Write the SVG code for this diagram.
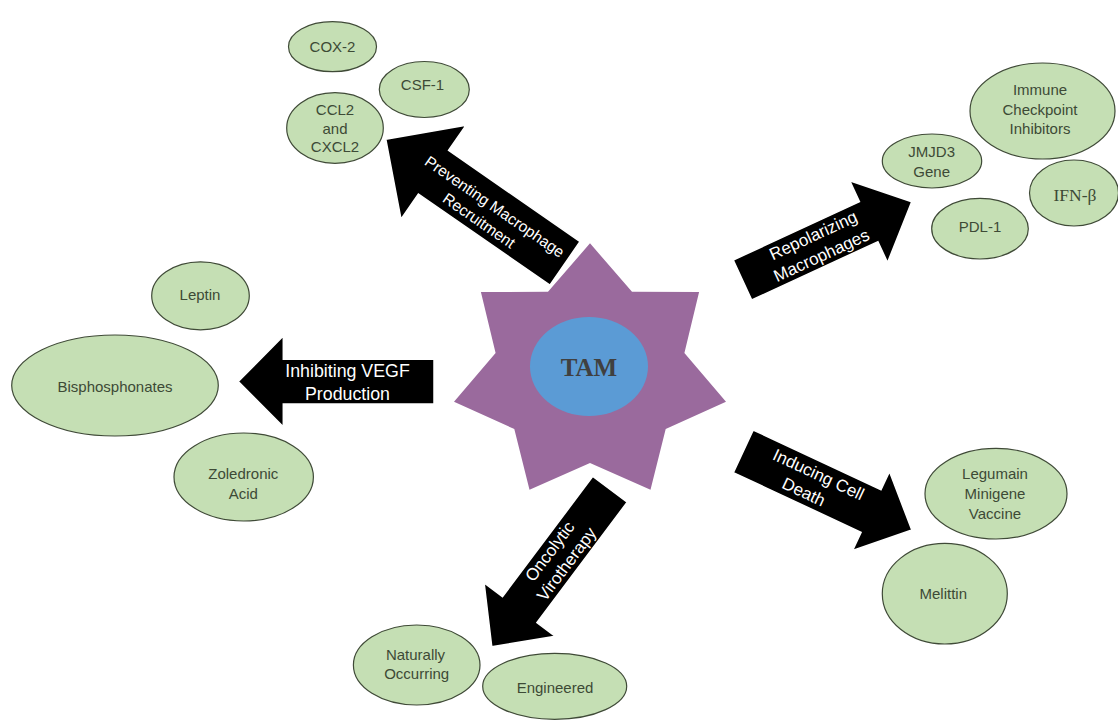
<svg xmlns="http://www.w3.org/2000/svg" width="1118" height="721" viewBox="0 0 1118 721">
<style>
.bg{fill:#ffffff}
.leaf{fill:#C5DFB4;stroke:#3F4A37;stroke-width:1.2}
.lt{font-family:"Liberation Sans",Arial,sans-serif;font-size:15px;fill:#3D4A36;text-anchor:middle}
.serif{font-family:"Liberation Serif","Times New Roman",serif;font-size:17.5px;fill:#3D4A36;text-anchor:middle}
.arrow{fill:#000000;stroke:#ffffff;stroke-width:1.5;stroke-linejoin:miter}
.at{font-family:"Liberation Sans",Arial,sans-serif;font-size:17.8px;fill:#ffffff;text-anchor:middle}
.atr{font-family:"Liberation Sans",Arial,sans-serif;font-size:17px;fill:#ffffff;text-anchor:middle}
.at2{font-family:"Liberation Sans",Arial,sans-serif;font-size:15.6px;fill:#ffffff;text-anchor:middle}
</style>
<rect class="bg" x="0" y="0" width="1118" height="721"/>

<g id="tam">
  <polygon fill="#9A6A9D" points="590,243.3 632,291.8 699.1,292.1 684.4,352.9 726,401.7 665.7,429 650.5,489.7 590,462.9 529.5,489.7 514.3,429 454,401.7 495.6,352.9 480.9,292.1 548,291.8"/>
  <ellipse cx="589" cy="366.5" rx="59" ry="49.5" fill="#5B9BD5"/>
  <text x="589" y="375.5" font-family="Liberation Serif,'Times New Roman',serif" font-weight="bold" font-size="25" fill="#404040" text-anchor="middle">TAM</text>
</g>

<g id="connectors">
  <g id="arrow-preventing" transform="translate(565,263.3) rotate(34.7)">
    <path class="arrow" d="M0,-26.5 L-160,-26.5 L-160,-57 L-218,0 L-160,57 L-160,26.5 L0,26.5 Z"/>
    <text class="at2" x="-90" y="-1.2">Preventing Macrophage</text>
    <text class="at2" x="-95" y="19.2">Recruitment</text>
  </g>
  <g id="arrow-repolarizing" transform="translate(742.5,280) rotate(-24.8)">
    <path class="arrow" d="M0,-22 L139,-22 L139,-45 L186.4,0 L139,45 L139,22 L0,22 Z"/>
    <text class="atr" x="83" y="-5">Repolarizing</text>
    <text class="atr" x="82" y="16.5">Macrophages</text>
  </g>
  <g id="arrow-inhibiting">
    <path class="arrow" d="M434,359.3 L283.3,359.3 L283.3,336 L238.3,381.5 L283.3,426.7 L283.3,404 L434,404 Z"/>
    <text class="at" x="347.5" y="376.7">Inhibiting VEGF</text>
    <text class="at" x="347.5" y="400">Production</text>
  </g>
  <g id="arrow-inducing" transform="translate(743.3,451.3) rotate(25.05)">
    <path class="arrow" d="M0,-23.5 L141,-23.5 L141,-43.5 L186,0 L141,43.5 L141,23.5 L0,23.5 Z"/>
    <text class="atr" x="78" y="-5">Inducing Cell</text>
    <text class="atr" x="72" y="17">Death</text>
  </g>
  <g id="arrow-oncolytic">
    <path class="arrow" transform="translate(610,489.3) rotate(126.9)" d="M0,-21.5 L150.4,-21.5 L150.4,-44.5 L196.9,0 L150.4,44.5 L150.4,21.5 L0,21.5 Z"/>
    <g transform="translate(558.8,558.2) rotate(-53.1)">
      <text class="atr" x="0" y="-5.5">Oncolytic</text>
      <text class="atr" x="0" y="15.5">Virotherapy</text>
    </g>
  </g>
</g>

<g id="cox2"><ellipse class="leaf" cx="332.5" cy="46.7" rx="44" ry="25"/><text class="lt" x="332.5" y="52">COX-2</text></g>
<g id="csf1"><ellipse class="leaf" cx="424.3" cy="89.5" rx="45" ry="28"/><text class="lt" x="422.5" y="90">CSF-1</text></g>
<g id="ccl2"><ellipse class="leaf" cx="335" cy="128" rx="48.3" ry="35.3"/>
  <text class="lt" x="335" y="115.3">CCL2</text><text class="lt" x="335" y="133.6">and</text><text class="lt" x="335" y="152">CXCL2</text></g>

<g id="immune"><ellipse class="leaf" cx="1042.5" cy="111" rx="72.5" ry="48"/>
  <text class="lt" x="1040" y="95.3">Immune</text><text class="lt" x="1040" y="114.6">Checkpoint</text><text class="lt" x="1040" y="134.3">Inhibitors</text></g>
<g id="jmjd3"><ellipse class="leaf" cx="932" cy="161" rx="49.7" ry="27"/>
  <text class="lt" x="931.7" y="157">JMJD3</text><text class="lt" x="931.7" y="177">Gene</text></g>
<g id="ifnb"><ellipse class="leaf" cx="1074" cy="193" rx="44.5" ry="33"/><text class="serif" x="1075" y="201">IFN-β</text></g>
<g id="pdl1"><ellipse class="leaf" cx="980" cy="228.7" rx="48.3" ry="30.3"/><text class="lt" x="980" y="232">PDL-1</text></g>

<g id="leptin"><ellipse class="leaf" cx="200.5" cy="295.8" rx="48.8" ry="34"/><text class="lt" x="200" y="299.6">Leptin</text></g>
<g id="bisphosphonates"><ellipse class="leaf" cx="115" cy="385.5" rx="103.3" ry="50.5"/><text class="lt" x="115" y="392">Bisphosphonates</text></g>
<g id="zoledronic"><ellipse class="leaf" cx="243.7" cy="477" rx="69.7" ry="44"/>
  <text class="lt" x="243.3" y="478.6">Zoledronic</text><text class="lt" x="243.3" y="498.6">Acid</text></g>

<g id="legumain"><ellipse class="leaf" cx="996" cy="493.7" rx="71" ry="45.3"/>
  <text class="lt" x="995" y="478.6">Legumain</text><text class="lt" x="995" y="499.3">Minigene</text><text class="lt" x="995" y="519.3">Vaccine</text></g>
<g id="melittin"><ellipse class="leaf" cx="944.8" cy="593.7" rx="62.5" ry="50.3"/><text class="lt" x="943.3" y="598.6">Melittin</text></g>

<g id="naturally"><ellipse class="leaf" cx="416.7" cy="665" rx="63.3" ry="40"/>
  <text class="lt" x="415.5" y="660.3">Naturally</text><text class="lt" x="416.7" y="678.6">Occurring</text></g>
<g id="engineered"><ellipse class="leaf" cx="554.7" cy="686.3" rx="72" ry="33"/><text class="lt" x="555" y="692.6">Engineered</text></g>
</svg>
